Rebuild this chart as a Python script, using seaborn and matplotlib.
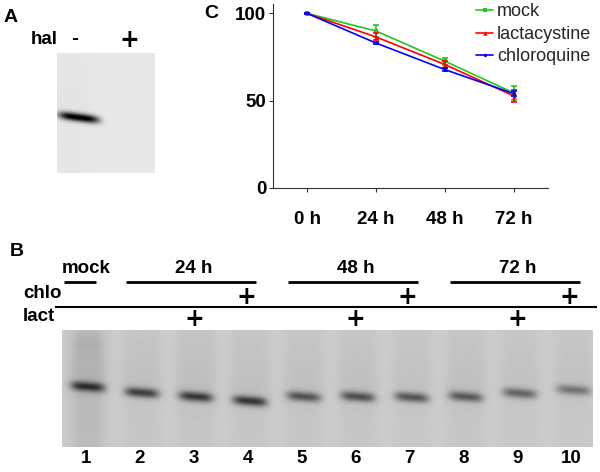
import numpy as np
import pandas as pd
import matplotlib
matplotlib.use('Agg')
import matplotlib.pyplot as plt
import seaborn as sns

# ---- panel C: signal remaining (%) ----
times = ['0 h', '24 h', '48 h', '72 h']
mock = [100, 89.9, 72.6, 54.4]
mock_err = [0.5, 3.7, 2.0, 4.0]
lact = [100, 86.5, 70.7, 52.7]
lact_err = [0.5, 2.0, 2.0, 3.6]
chlo = [100, 83.0, 67.8, 54.0]
chlo_err = [0.5, 0.8, 0.8, 1.5]

# ---- panel A blot ----
hal_labels = ['-', '+']
hal_band = [0.95, 0.0]

# ---- panel B blot ----
lane_numbers = ['1', '2', '3', '4', '5', '6', '7', '8', '9', '10']
lane_band_y = [386.7, 392.7, 396.7, 401.0, 396.7, 396.7, 397.3, 396.7, 393.3, 390.0]
lane_band = [0.52, 0.50, 0.52, 0.54, 0.42, 0.44, 0.42, 0.40, 0.36, 0.30]
lane_smear = [0.09, 0.06, 0.07, 0.06, 0.06, 0.06, 0.05, 0.06, 0.05, 0.05]
group_labels = ['mock', '24 h', '48 h', '72 h']
group_lanes = [(0, 0), (1, 3), (4, 6), (7, 9)]
chlo_marks = ['', '', '', '+', '', '', '+', '', '', '+']
lact_marks = ['', '', '+', '', '', '+', '', '', '+', '']

sns.set_theme(style='ticks')
plt.rcParams['font.family'] = ['Liberation Sans', 'DejaVu Sans']

W, H = 600, 472
fig = plt.figure(figsize=(W / 100, H / 100), dpi=100)

# overlay in pixel coords for blots and labels
ov = fig.add_axes([0, 0, 1, 1])
ov.set_xlim(0, W)
ov.set_ylim(H, 0)
ov.axis('off')
ov.patch.set_alpha(0)

bold = dict(fontweight='bold', color='black')
plus = dict(fontweight='bold', color='black', family='DejaVu Sans', fontsize=17)


def gel(x0, x1, y0, y1, bg, bands, smears=None):
    xs = np.arange(x0, x1) + 0.5
    ys = np.arange(y0, y1) + 0.5
    X, Y = np.meshgrid(xs, ys)
    img = np.full(X.shape, bg)
    for (xc, yc, hw, sig, slope, amp) in bands:
        hp = np.exp(-((X - xc) / hw) ** 4)
        yy = yc + slope * (X - xc)
        img += amp * hp * np.exp(-0.5 * ((Y - yy) / sig) ** 2)
    if smears:
        for (xc, yc, hw, amp) in smears:
            hp = np.exp(-((X - xc) / hw) ** 4)
            vp = np.clip((Y - y0) / (yc - y0), 0, 1) * np.exp(-np.clip(Y - yc, 0, None) / 8)
            img += amp * hp * (0.4 + 0.6 * vp)
    img = np.clip(img, 0, 1)
    ov.imshow(img, cmap='gray_r', vmin=0, vmax=1, extent=(x0, x1, y1, y0),
              origin='upper', aspect='auto', interpolation='bilinear', zorder=1)


# panel A
ov.text(4, 17, 'A', fontsize=14, va='center', ha='left', **bold)
ov.text(31, 39.5, 'hal', fontsize=13.5, va='center', ha='left', **bold)
hal_x = [75, 129.3]
for xx, lab in zip(hal_x, hal_labels):
    if lab == '-':
        ov.text(xx, 38.5, lab, fontsize=15, va='center', ha='center', **bold)
    else:
        ov.text(xx, 40, lab, va='center', ha='center', **plus)
gel(57, 155, 53, 173, 0.09,
    [(hal_x[i] + 4, 117.5, 20, 2.9, 0.13, hal_band[i]) for i in range(2)],
    [(hal_x[0] - 5, 112, 24, 0.02)])

# panel B
ov.text(10, 252, 'B', fontsize=14, va='center', ha='left', **bold)
lane_x = [86 + 53.97 * i for i in range(len(lane_numbers))]
for (a, b), lab in zip(group_lanes, group_labels):
    xc = (lane_x[a] + lane_x[b]) / 2
    ov.text(xc, 268.5, lab, fontsize=13.5, va='center', ha='center', **bold)
    if a == b:
        xa, xb = lane_x[a] - 22, lane_x[b] + 10
    else:
        xa, xb = lane_x[a] - 14, lane_x[b] + 8
    ov.plot([xa, xb], [281.7, 281.7], color='black', lw=2, solid_capstyle='butt')
ov.text(23, 293.5, 'chlo', fontsize=13.5, va='center', ha='left', **bold)
ov.text(23, 316.5, 'lact', fontsize=13.5, va='center', ha='left', **bold)
ov.plot([55, 597], [306.7, 306.7], color='black', lw=1.5, solid_capstyle='butt')
for xx, c, l in zip(lane_x, chlo_marks, lact_marks):
    if c:
        ov.text(xx - 2, 297, c, va='center', ha='center', **plus)
    if l:
        ov.text(xx, 319.5, l, va='center', ha='center', **plus)
for xx, n in zip(lane_x, lane_numbers):
    ov.text(xx, 458.5, n, fontsize=13.5, va='center', ha='center', **bold)
bands = [(lane_x[i] + 2, lane_band_y[i], 17, 3.4, 0.08, lane_band[i]) for i in range(len(lane_x))]
smears = [(lane_x[i] + 2, lane_band_y[i], 21, lane_smear[i]) for i in range(len(lane_x))]
smears.append((lane_x[0] + 2, 345, 15, 0.08))
gel(62, 593, 330, 447, 0.2, bands, smears)

# panel C
ov.text(204, 14, 'C', fontsize=14, va='center', ha='left', **bold)
ax = fig.add_axes([272.7 / W, 1 - 187.7 / H, (548 - 272.7) / W, (187.7 - 4) / H])
xpos = np.arange(len(times))
series = [('mock', mock, mock_err, '#1ec81e', 's', 3.2),
          ('lactacystine', lact, lact_err, '#ff0000', '^', 3.2),
          ('chloroquine', chlo, chlo_err, '#0000ff', 'o', 2.4)]
for name, vals, errs, col, mk, ms in series:
    df = pd.DataFrame({'t': xpos, 'v': vals})
    sns.lineplot(data=df, x='t', y='v', ax=ax, color=col, marker=mk, markersize=ms,
                 markeredgewidth=0, linewidth=1.2, label=name)
    ax.errorbar(xpos, vals, yerr=errs, fmt='none', ecolor=col, elinewidth=1.2,
                capsize=2.2, capthick=1.2)
ax.set_xlim(-0.5, 3.5)
ax.set_ylim(0, 105.4)
ax.set_xticks(xpos)
ax.set_xticklabels(times)
ax.set_yticks([0, 50, 100])
ax.set_xlabel('')
ax.set_ylabel('')
for lab in ax.get_xticklabels() + ax.get_yticklabels():
    lab.set_fontweight('bold')
    lab.set_fontsize(13.5)
ax.tick_params(axis='x', length=3, width=0.8, pad=14, colors='#333333', labelcolor='black')
ax.tick_params(axis='y', length=3, width=0.8, pad=1.5, colors='#333333', labelcolor='black')
sns.despine(ax=ax)
for s in ['left', 'bottom']:
    ax.spines[s].set_linewidth(0.8)
    ax.spines[s].set_color('#333333')
ax.patch.set_alpha(0)
ax.legend(loc='upper left', bbox_to_anchor=(476 / W, 1 - 3.5 / H), bbox_transform=fig.transFigure,
          frameon=False, fontsize=13, handlelength=0.95, handletextpad=0.2, labelspacing=0.3,
          borderpad=0, borderaxespad=0)

fig.savefig('out.png', dpi=100)
